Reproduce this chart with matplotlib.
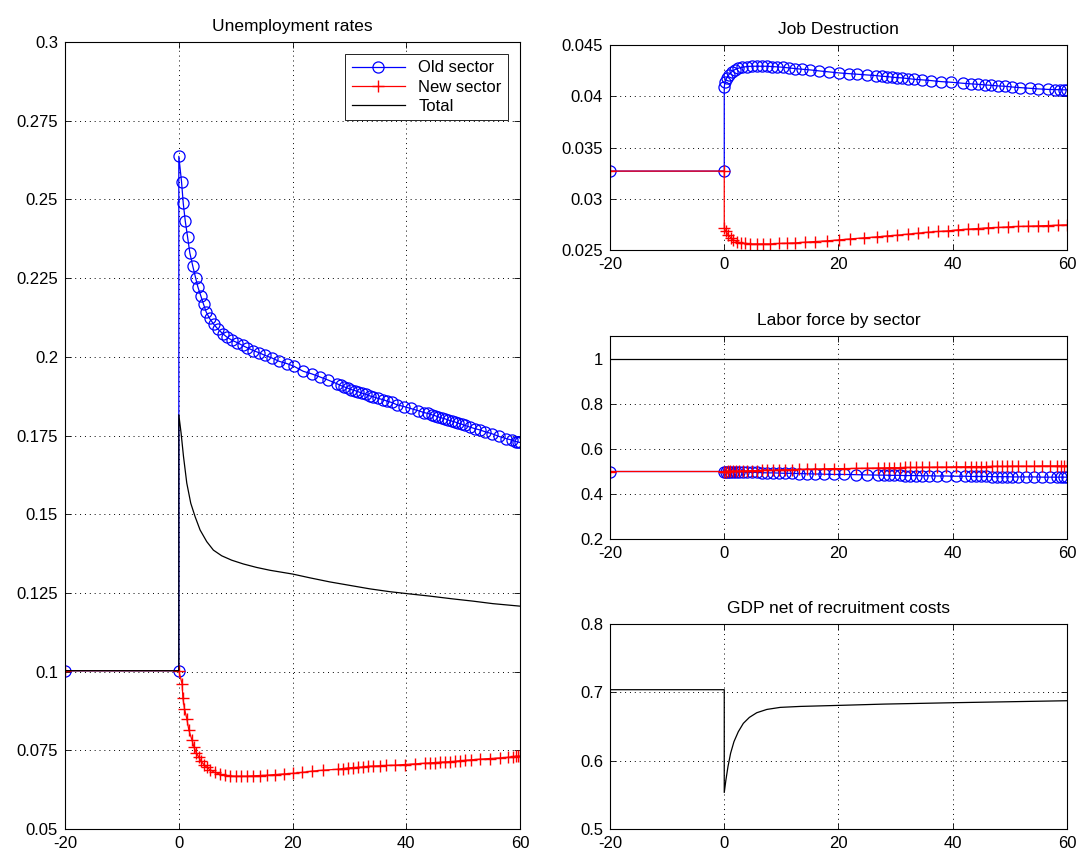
import matplotlib
matplotlib.use('Agg')
import matplotlib.pyplot as plt
from matplotlib.ticker import FuncFormatter

plt.rcParams['font.family'] = ['Liberation Sans', 'DejaVu Sans']
plt.rcParams['font.size'] = 12
plt.rcParams['axes.unicode_minus'] = False

# ---- Unemployment rates ----
t_u_old = [-20, 0, 0, 0.48, 0.78, 1.13, 1.53, 1.94, 2.47, 2.94, 3.35, 3.88, 4.35, 4.8, 5.4,
           6.16, 6.93, 7.7, 8.5, 9.4, 10.3, 11.2, 12.0, 13.1, 14.1, 15.1, 16.3, 17.6, 19.1,
           20.24, 21.88, 23.35, 24.82, 26.28, 27.75, 28.45, 29.04, 29.74, 30.33,
           30.92, 31.56, 32.15, 32.85, 33.56, 34.2, 35.02, 35.9, 36.66, 37.43,
           38.31, 39.6, 40.77, 42.06, 43.12, 43.82, 44.46, 45.05, 45.64, 46.22,
           46.81, 47.4, 47.98, 48.57, 49.16, 49.74, 50.33, 51.15, 52.03, 52.91,
           53.85, 55.02, 56.31, 57.6, 58.66, 59.24, 59.71, 60.0]
u_old = [0.1003, 0.1003, 0.2637,
         0.2556, 0.2488, 0.2432, 0.2382, 0.2330, 0.2287, 0.2252, 0.2222, 0.2193, 0.2167,
         0.2143, 0.2122, 0.2103, 0.2087, 0.2074, 0.2062, 0.2052, 0.2045, 0.2036, 0.2029,
         0.2020, 0.2013, 0.2005, 0.1997, 0.1986, 0.1978,
         0.1970, 0.1954, 0.1946, 0.1936, 0.1926, 0.1915, 0.1909, 0.1905, 0.1900, 0.1896,
         0.1893, 0.1889, 0.1885, 0.1881, 0.1876, 0.1873, 0.1868, 0.1864, 0.1859, 0.1855,
         0.1848, 0.1842, 0.1836, 0.1829, 0.1823, 0.1820, 0.1816, 0.1813, 0.1809, 0.1806,
         0.1803, 0.1799, 0.1796, 0.1793, 0.1789, 0.1786, 0.1782, 0.1777, 0.1772, 0.1768,
         0.1762, 0.1756, 0.1747, 0.1740, 0.1735, 0.1731, 0.1729, 0.1728]

t_u_new = [-20, 0, 0.59, 0.71, 1.0, 1.41, 1.76, 2.29, 2.64, 3.05, 3.52, 3.93,
           4.4, 4.93, 5.51, 6.28, 7.16, 8.04, 9.03, 9.97, 10.97, 11.97,
           13.02, 14.2, 15.49, 16.83, 18.42, 20.06, 21.7, 23.46, 25.34, 27.98,
           28.86, 29.74, 30.62, 31.5, 32.38, 33.26, 34.14, 35.31, 36.48, 37.95,
           39.71, 41.47, 43.23, 44.11, 44.99, 45.87, 46.75, 47.63, 48.5, 49.4,
           50.3, 51.44, 52.9, 54.66, 56.4, 57.9, 58.77, 59.24, 59.65, 60.0]
u_new = [0.1003, 0.1003, 0.0960, 0.0917, 0.0882, 0.0850, 0.0815, 0.0784, 0.0762, 0.0743, 0.0728, 0.0715,
         0.0705, 0.0696, 0.0688, 0.0680, 0.0675, 0.0671, 0.0669, 0.0668, 0.0668, 0.0668,
         0.0669, 0.0670, 0.0671, 0.0673, 0.0675, 0.0677, 0.0680, 0.0684, 0.0687, 0.0690,
         0.0692, 0.0694, 0.0695, 0.0696, 0.0697, 0.0699, 0.0700, 0.0701, 0.0702, 0.0703,
         0.0705, 0.0707, 0.0709, 0.0710, 0.0711, 0.0712, 0.0713, 0.0714, 0.0715, 0.0717,
         0.0718, 0.0720, 0.0722, 0.0724, 0.0726, 0.0728, 0.0729, 0.0731, 0.0731, 0.0731]

t_u_tot = [-20, 0, 0, 0.4, 0.82, 1.4, 2.1, 2.87, 3.74, 4.91, 6.08, 7.54, 9.3,
           11.35, 13.68, 16.02, 20, 23.04, 26.55, 30.06, 33.57, 37.08, 40,
           44.1, 48.2, 51.7, 55.2, 60]
u_tot = [0.1003, 0.1003, 0.1816, 0.1758, 0.1684, 0.1599, 0.1535, 0.1492, 0.1450, 0.1413, 0.1386, 0.1368, 0.1354,
         0.1342, 0.1331, 0.1322, 0.1310, 0.1298, 0.1285, 0.1274, 0.1263, 0.1254, 0.1248,
         0.1240, 0.1231, 0.1224, 0.1216, 0.1208]

# ---- Job destruction ----
t_jd_old = [-20, 0, 0, 0.12, 0.41, 0.82, 1.29, 1.88, 2.46, 3.17, 3.93, 4.81, 5.69,
            6.57, 7.45, 8.33, 9.2, 10.26, 11.26, 12.43, 13.6, 15.07, 16.54,
            18.3, 20.06, 21.8, 23.3, 25.0, 26.5, 27.68, 28.56, 29.44, 30.3,
            31.2, 32.1, 33.25, 34.7, 36.2, 37.95, 39.7, 41.76, 43.2, 44.4,
            45.57, 46.75, 47.9, 49.1, 50.3, 51.7, 53.5, 54.96, 56.7, 57.9,
            58.8, 59.4, 60]
jd_old = [0.0327, 0.0327, 0.04088,
          0.04137, 0.04179, 0.04212, 0.04238, 0.04261, 0.04274, 0.04283, 0.04290, 0.04293, 0.04293,
          0.04293, 0.04293, 0.04290, 0.04287, 0.04283, 0.04277, 0.04270, 0.04264, 0.04257, 0.04248,
          0.04238, 0.04228, 0.04221, 0.04215, 0.04208, 0.04202, 0.04195, 0.04192, 0.04186, 0.04182,
          0.04179, 0.04173, 0.04166, 0.04160, 0.04153, 0.04143, 0.04137, 0.04127, 0.04121, 0.04117,
          0.04111, 0.04107, 0.04101, 0.04098, 0.04091, 0.04085, 0.04078, 0.04072, 0.04067, 0.04065,
          0.04064, 0.04063, 0.04063]

t_jd_new = [-20, 0, 0, 0.29, 0.7, 1.11, 1.58, 2.17, 2.87, 3.64, 4.52, 5.69, 6.86,
            8.04, 9.5, 10.97, 12.43, 14.2, 15.95, 18.0, 20.06, 22.1, 24.46,
            26.8, 28.56, 30.3, 32.1, 33.84, 35.6, 37.36, 39.1, 40.88, 42.64,
            44.4, 46.16, 47.9, 49.7, 51.44, 53.2, 54.96, 56.7, 58.5, 60]
jd_new = [0.0327, 0.0327, 0.02713,
          0.02681, 0.02648, 0.02622, 0.02599, 0.02583, 0.02570, 0.02564, 0.02560, 0.02560, 0.02560,
          0.02560, 0.02564, 0.02567, 0.02570, 0.02577, 0.02583, 0.02590, 0.02599, 0.02609, 0.02619,
          0.02629, 0.02638, 0.02645, 0.02655, 0.02664, 0.02674, 0.02681, 0.02687, 0.02697, 0.02704,
          0.02710, 0.02717, 0.02720, 0.02726, 0.02730, 0.02733, 0.02736, 0.02739, 0.02743, 0.02746]

# ---- Labor force by sector ----
t_lf = [-20, 0, 0.3, 0.6, 1.0, 1.5, 2.0, 2.6, 3.2, 4.0, 4.8,
        5.7, 6.6, 7.5, 8.5, 9.5, 10.6, 11.8, 13.0, 14.4, 15.9, 17.5,
        19.2, 21.0, 23.0, 25.0, 27.0, 28.0, 28.9, 29.8, 30.7, 31.6,
        32.5, 33.5, 34.6, 35.8, 37.2, 38.8, 40.5, 42.2, 43.2, 44.1,
        45.0, 45.9, 46.8, 47.7, 48.6, 49.5, 50.4, 51.5, 52.8, 54.2,
        55.6, 57.0, 58.2, 59.0, 59.5, 60.0]
lf_old = [0.500, 0.500, 0.500, 0.499, 0.499, 0.499, 0.498, 0.498, 0.497, 0.497, 0.496,
          0.496, 0.495, 0.494, 0.494, 0.493, 0.492, 0.492, 0.491, 0.490, 0.489, 0.488,
          0.487, 0.487, 0.486, 0.485, 0.484, 0.484, 0.483, 0.483, 0.483, 0.482,
          0.482, 0.482, 0.481, 0.481, 0.480, 0.480, 0.479, 0.479, 0.478, 0.478,
          0.478, 0.478, 0.477, 0.477, 0.477, 0.477, 0.476, 0.476, 0.476, 0.476,
          0.475, 0.475, 0.475, 0.475, 0.475, 0.475]
lf_new = [0.500, 0.500, 0.500, 0.501, 0.501, 0.501, 0.502, 0.502, 0.503, 0.503, 0.504,
          0.504, 0.505, 0.506, 0.506, 0.507, 0.508, 0.508, 0.509, 0.510, 0.511, 0.512,
          0.513, 0.513, 0.514, 0.515, 0.516, 0.516, 0.517, 0.517, 0.517, 0.518,
          0.518, 0.518, 0.519, 0.519, 0.520, 0.520, 0.521, 0.521, 0.522, 0.522,
          0.522, 0.522, 0.523, 0.523, 0.523, 0.523, 0.524, 0.524, 0.524, 0.524,
          0.525, 0.525, 0.525, 0.525, 0.525, 0.525]
t_lf_tot = [-20, 0, 60]
lf_tot = [1.0, 1.0, 1.0]

# ---- GDP net of recruitment costs ----
t_gdp = [-20, 0, 0, 0.29, 0.65, 1.11, 1.7, 2.46, 3.34, 4.4, 5.69, 7.45, 9.8, 13.3, 20, 28, 40, 49.7, 60]
gdp = [0.704, 0.704, 0.5539, 0.5723, 0.5917, 0.6112, 0.6282, 0.6427, 0.6549, 0.6636,
       0.6704, 0.6752, 0.6782, 0.6796, 0.6811, 0.6830, 0.6850, 0.6864, 0.6879]

xticks = [-20, 0, 20, 40, 60]
lw = 0.9
old_style = dict(color='b', marker='o', mfc='none', mec='b', ms=8, mew=0.9, lw=lw)
new_style = dict(color='r', marker='+', ms=9, mew=1.0, lw=lw)


def matlab_axes(ax, ylim, yticks, title):
    ax.set_xlim(-20, 60)
    ax.set_ylim(*ylim)
    ax.set_xticks(xticks)
    ax.set_yticks(yticks)
    ax.yaxis.set_major_formatter(FuncFormatter(lambda v, p: '%g' % round(v, 4)))
    ax.tick_params(direction='in', length=4, width=0.6, top=True, right=True,
                   labelsize=12, pad=5)
    ax.grid(True, color='k', linestyle=(0, (1, 4)), linewidth=0.7)
    for s in ax.spines.values():
        s.set_linewidth(0.8)
    ax.set_title(title, fontsize=12.5, pad=8)


fig = plt.figure(figsize=(10.77, 8.56), dpi=100)

ax1 = fig.add_axes([0.0604, 0.0315, 0.4225, 0.9194])
ax1.plot(t_u_old, u_old, label='Old sector', **old_style)
ax1.plot(t_u_new, u_new, label='New sector', **new_style)
ax1.plot(t_u_tot, u_tot, color='k', lw=lw, label='Total')
matlab_axes(ax1, (0.05, 0.3), [0.05, 0.075, 0.1, 0.125, 0.15, 0.175, 0.2, 0.225, 0.25, 0.275, 0.3],
            'Unemployment rates')
leg = ax1.legend(loc='upper right', fancybox=False, framealpha=1, edgecolor='k',
                 handlelength=3.2, borderaxespad=0.7, fontsize=12, labelspacing=0.25)
leg.get_frame().set_linewidth(0.6)

ax2 = fig.add_axes([0.5664, 0.7079, 0.4243, 0.2395])
ax2.plot(t_jd_old, jd_old, **old_style)
ax2.plot(t_jd_new, jd_new, **new_style)
matlab_axes(ax2, (0.025, 0.045), [0.025, 0.03, 0.035, 0.04, 0.045], 'Job Destruction')

ax3 = fig.add_axes([0.5664, 0.3703, 0.4243, 0.2366])
ax3.plot(t_lf, lf_old, **old_style)
ax3.plot(t_lf, lf_new, **new_style)
ax3.plot(t_lf_tot, lf_tot, color='k', lw=lw)
matlab_axes(ax3, (0.2, 1.1), [0.2, 0.4, 0.6, 0.8, 1.0], 'Labor force by sector')

ax4 = fig.add_axes([0.5664, 0.0310, 0.4243, 0.2401])
ax4.plot(t_gdp, gdp, color='k', lw=lw)
matlab_axes(ax4, (0.5, 0.8), [0.5, 0.6, 0.7, 0.8], 'GDP net of recruitment costs')

fig.savefig('out.png', dpi=100)
